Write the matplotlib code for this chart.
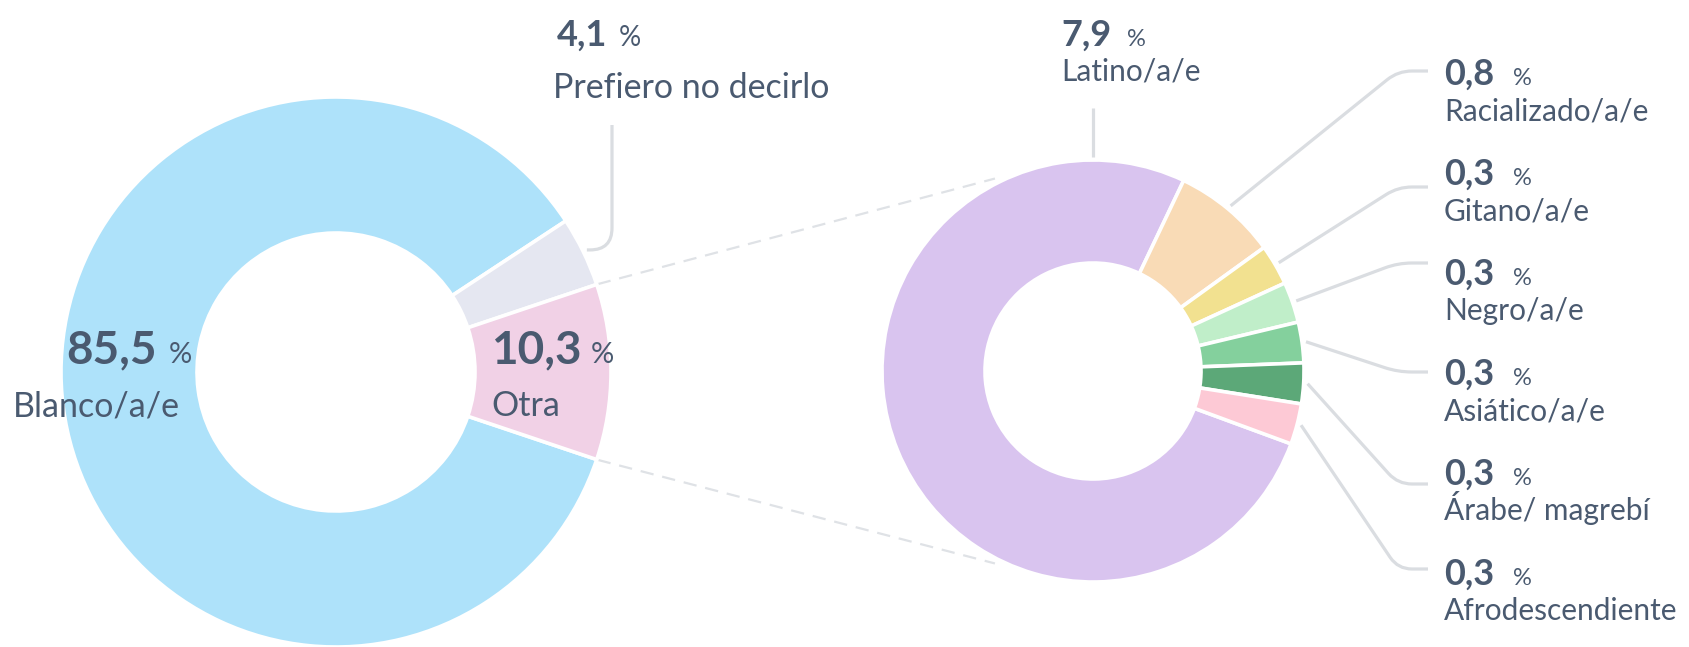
import numpy as np
import matplotlib.pyplot as plt
from matplotlib.path import Path
from matplotlib.patches import PathPatch

plt.rcParams['font.family'] = ['Lato', 'DejaVu Sans']

# Data
main_labels = ['Blanco/a/e', 'Prefiero no decirlo', 'Otra']
main_values = [85.5, 4.1, 10.3]
main_colors = ['#AEE2FA', '#E5E7F1', '#F1D1E6']

otra_labels = ['Latino/a/e', 'Racializado/a/e', 'Gitano/a/e', 'Negro/a/e',
               'Asiático/a/e', 'Árabe/ magrebí', 'Afrodescendiente']
otra_values = [7.86, 0.82, 0.32, 0.32, 0.32, 0.32, 0.32]
otra_colors = ['#D9C4EF', '#F9DBB6', '#F2E190', '#C0EEC9', '#84D09D', '#5CA878', '#FDC9D5']

TEXT = '#4A5A70'
LINE = '#DADDE1'
W, H = 1689, 647


def Y(y):
    # pixel rows (top-down) to data y
    return H - y


def fmt(v):
    return f'{v:.1f}'.replace('.', ',')


def leader(ax, pts, r=14):
    pts = [np.array([p[0], Y(p[1])], dtype=float) for p in pts]
    verts, codes = [pts[0]], [Path.MOVETO]
    for i in range(1, len(pts) - 1):
        a, c, b = pts[i - 1], pts[i], pts[i + 1]
        u = (a - c) / np.linalg.norm(a - c)
        v = (b - c) / np.linalg.norm(b - c)
        verts += [c + u * r, c, c + v * r]
        codes += [Path.LINETO, Path.CURVE3, Path.CURVE3]
    verts.append(pts[-1])
    codes.append(Path.LINETO)
    ax.add_patch(PathPatch(Path(verts, codes), fill=False, edgecolor=LINE,
                           lw=2.3, capstyle='butt', zorder=1))


def value_label(ax, x, y, value, size, pct_size, gap):
    t = ax.text(x, Y(y), fmt(value), fontsize=size, fontweight='bold',
                color=TEXT, ha='left', va='baseline', zorder=5)
    bb = t.get_window_extent(renderer)
    x1 = ax.transData.inverted().transform((bb.x1, 0))[0]
    ax.text(x1 + gap, Y(y), '%', fontsize=pct_size, color=TEXT,
            ha='left', va='baseline', zorder=5)


fig = plt.figure(figsize=(W / 100, H / 100), dpi=100)
ax = fig.add_axes([0, 0, 1, 1])
renderer = fig.canvas.get_renderer()

# left donut
c1, R1, w1 = (336, Y(372)), 275, 136
total1 = sum(main_values)
start1 = 360 - main_values[2] / total1 * 180
ax.pie(main_values, colors=main_colors, center=c1, radius=R1, startangle=start1,
       counterclock=False, wedgeprops=dict(width=w1, edgecolor='white', linewidth=2.6))

# right donut
c2, R2, w2 = (1093, Y(371)), 211, 103
ax.pie(otra_values, colors=otra_colors, center=c2, radius=R2, startangle=339.8,
       counterclock=False, wedgeprops=dict(width=w2, edgecolor='white', linewidth=2.6))

ax.set_xlim(0, W)
ax.set_ylim(0, H)
ax.set_aspect('equal')
ax.axis('off')

# dashed connectors between the Otra slice and the second donut
half = main_values[2] / total1 * 180
for s in (1, -1):
    a = np.deg2rad(s * half)
    b = np.deg2rad(s * 117)
    ax.plot([c1[0] + (R1 + 1) * np.cos(a), c2[0] + (R2 + 5) * np.cos(b)],
            [c1[1] + (R1 + 1) * np.sin(a), c2[1] + (R2 + 5) * np.sin(b)],
            color='#DFE2E6', lw=1.6, dashes=(6, 4), zorder=0)

# left labels
mid_pref = np.deg2rad(half + main_values[1] / total1 * 180)
px = c1[0] + (R1 + 4) * np.cos(mid_pref)
py = H - (c1[1] + (R1 + 4) * np.sin(mid_pref))
leader(ax, [(612, 125), (612, py), (px, py)], r=22)
value_label(ax, 557, 46, main_values[1], 26, 20, 11)
ax.text(553, Y(98), main_labels[1], fontsize=24.5, color=TEXT, va='baseline')
value_label(ax, 66, 363, main_values[0], 33, 21, 12)
ax.text(13, Y(416), main_labels[0], fontsize=24.5, color=TEXT, va='baseline', zorder=5)
value_label(ax, 491, 363, main_values[2], 33, 21, 9)
ax.text(491, Y(416), main_labels[2], fontsize=24.5, color=TEXT, va='baseline', zorder=5)

# Latino label (top)
leader(ax, [(1093, 108), (1093, H - c2[1] - R2 - 3)])
value_label(ax, 1061, 46, otra_values[0], 26, 17, 16)
ax.text(1061, Y(81), otra_labels[0], fontsize=21.5, color=TEXT, va='baseline')

# small slices, labels on the right
num_y = [85, 185, 285, 385, 485, 585]
end_y = [71, 187, 263, 372, 484, 569]
total2 = sum(otra_values)
ang = 339.8 - otra_values[0] / total2 * 360
for i, v in enumerate(otra_values[1:]):
    span = v / total2 * 360
    mid = np.deg2rad(ang - span / 2)
    ang -= span
    sx = c2[0] + (R2 + 4) * np.cos(mid)
    sy = H - (c2[1] + (R2 + 4) * np.sin(mid))
    leader(ax, [(sx, sy), (1398, end_y[i]), (1428, end_y[i])], r=14)
    value_label(ax, 1444, num_y[i], v, 26, 17, 19)
    ax.text(1444, Y(num_y[i] + 35), otra_labels[i + 1], fontsize=21.5,
            color=TEXT, va='baseline')

fig.savefig('out.png', dpi=100, facecolor='white')
